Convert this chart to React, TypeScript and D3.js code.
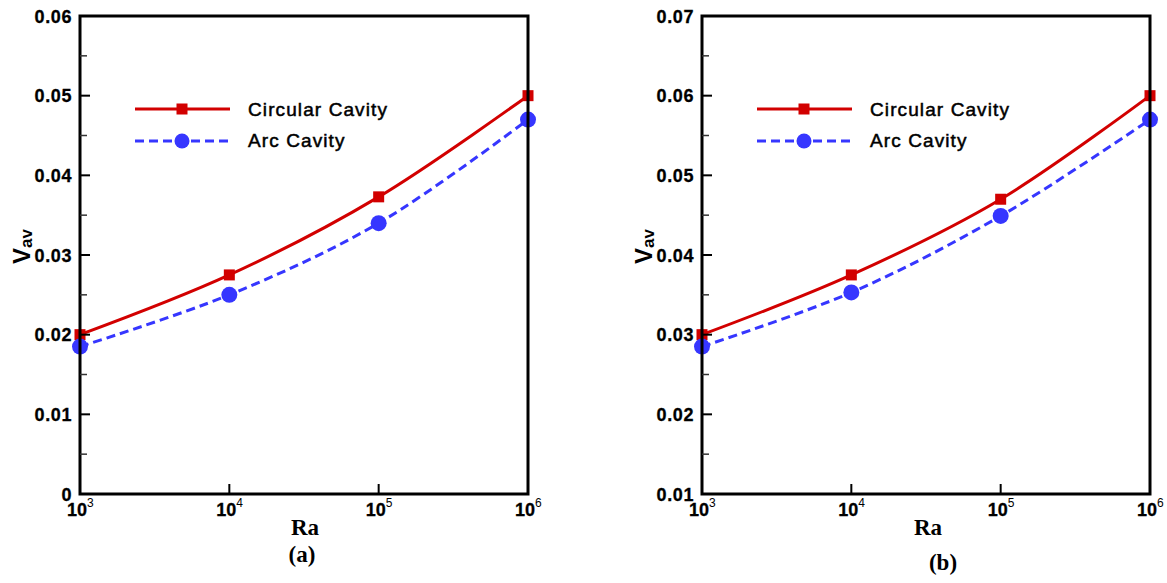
import React from "react";
import * as d3 from "d3";

const raValues = [1e3, 1e4, 1e5, 1e6];
const xTickExps = [3, 4, 5, 6];

const circularA = [0.02, 0.0275, 0.0373, 0.05];
const arcA = [0.0185, 0.025, 0.034, 0.047];
const yTicksA = [0, 0.01, 0.02, 0.03, 0.04, 0.05, 0.06];
const yTickLabelsA = ["0", "0.01", "0.02", "0.03", "0.04", "0.05", "0.06"];

const circularB = [0.03, 0.0375, 0.047, 0.06];
const arcB = [0.0285, 0.0353, 0.0449, 0.057];
const yTicksB = [0.01, 0.02, 0.03, 0.04, 0.05, 0.06, 0.07];
const yTickLabelsB = ["0.01", "0.02", "0.03", "0.04", "0.05", "0.06", "0.07"];

const seriesNames = ["Circular Cavity", "Arc Cavity"];
const RED = "#d20000";
const BLUE = "#3636ff";

type PanelProps = {
  dx: number;
  circ: number[];
  arc: number[];
  yTicks: number[];
  yLabels: string[];
  caption: string;
  raX: number;
  capX: number;
  capY: number;
};

function Panel({ dx, circ, arc, yTicks, yLabels, caption, raX, capX, capY }: PanelProps) {
  const left = 80, right = 528, top = 16, bottom = 494;
  const x = d3.scaleLog().domain([1e3, 1e6]).range([left, right]);
  const y = d3.scaleLinear().domain([yTicks[0], yTicks[yTicks.length - 1]]).range([bottom, top]);
  const line = d3
    .line<number>()
    .x((_, i) => x(raValues[i]))
    .y((d) => y(d))
    .curve(d3.curveCatmullRom.alpha(0.5));
  const minor: number[] = [];
  for (let i = 0; i < yTicks.length - 1; i++) minor.push((yTicks[i] + yTicks[i + 1]) / 2);
  const tickFont = "Arial, 'Liberation Sans', sans-serif";
  return (
    <g transform={`translate(${dx},0)`}>
      {/* data lines */}
      <path d={line(circ) || ""} fill="none" stroke={RED} strokeWidth={3} />
      <path d={line(arc) || ""} fill="none" stroke={BLUE} strokeWidth={3} strokeDasharray="9 5" />
      {circ.map((v, i) => (
        <rect key={"s" + i} x={x(raValues[i]) - 5.5} y={y(v) - 5.5} width={11} height={11} fill={RED} />
      ))}
      {arc.map((v, i) => (
        <circle key={"c" + i} cx={x(raValues[i])} cy={y(v)} r={8} fill={BLUE} />
      ))}
      {/* frame */}
      <rect x={left} y={top} width={right - left} height={bottom - top} fill="none" stroke="#000" strokeWidth={3} />
      {/* y ticks */}
      {yTicks.map((t, i) => (
        <g key={"yt" + i}>
          <line x1={left} x2={left + 10} y1={y(t)} y2={y(t)} stroke="#000" strokeWidth={2} />
          <text
            x={left - 8}
            y={y(t) + 6.5}
            textAnchor="end"
            fontFamily={tickFont}
            fontWeight="bold"
            fontSize={18}
            letterSpacing={0.6}
            fill="#000"
            stroke="#000"
            strokeWidth={0.3}
          >
            {yLabels[i]}
          </text>
        </g>
      ))}
      {minor.map((t, i) => (
        <line key={"ym" + i} x1={left} x2={left + 7} y1={y(t)} y2={y(t)} stroke="#333" strokeWidth={1.5} />
      ))}
      {/* x ticks */}
      {xTickExps.map((e, i) => {
        const xv = x(Math.pow(10, e));
        return (
          <g key={"xt" + i}>
            <line x1={xv} x2={xv} y1={bottom} y2={bottom - 10} stroke="#000" strokeWidth={2} />
            <text
              x={xv - 13}
              y={516}
              fontFamily={tickFont}
              fontWeight="bold"
              fontSize={18}
              fill="#000"
              stroke="#000"
              strokeWidth={0.3}
            >
              10
              <tspan dy={-9} fontSize={12} fontWeight="normal" strokeWidth={0}>
                {String(e)}
              </tspan>
            </text>
          </g>
        );
      })}
      {/* axis labels */}
      <text
        x={raX}
        y={535}
        textAnchor="middle"
        fontFamily="'Times New Roman', 'Liberation Serif', serif"
        fontWeight="bold"
        fontSize={23}
        fill="#000"
      >
        Ra
      </text>
      <text
        x={capX}
        y={capY}
        textAnchor="middle"
        fontFamily="'Times New Roman', 'Liberation Serif', serif"
        fontWeight="bold"
        fontSize={23}
        fill="#000"
      >
        {caption}
      </text>
      <text
        transform={`translate(30,264) rotate(-90)`}
        fontFamily={tickFont}
        fontWeight="bold"
        fontSize={24}
        fill="#000"
      >
        V
        <tspan fontSize={17} dy={2}>
          av
        </tspan>
      </text>
      {/* legend */}
      <line x1={135} x2={230} y1={109} y2={109} stroke={RED} strokeWidth={3} />
      <rect x={182 - 5.5} y={109 - 5.5} width={11} height={11} fill={RED} />
      <text
        x={248}
        y={116}
        fontFamily={tickFont}
        fontSize={19}
        letterSpacing={1.1}
        fill="#000"
        stroke="#000"
        strokeWidth={0.5}
      >
        {seriesNames[0]}
      </text>
      <line x1={135} x2={230} y1={141} y2={141} stroke={BLUE} strokeWidth={3} strokeDasharray="9 5" />
      <circle cx={182} cy={141} r={7.5} fill={BLUE} />
      <text
        x={248}
        y={147}
        fontFamily={tickFont}
        fontSize={19}
        letterSpacing={1.1}
        fill="#000"
        stroke="#000"
        strokeWidth={0.5}
      >
        {seriesNames[1]}
      </text>
    </g>
  );
}

export default function App() {
  return (
    <svg width={1167} height={583} style={{ position: "absolute", left: 0, top: 0, background: "#fff" }}>
      <rect x={0} y={0} width={1167} height={583} fill="#fff" />
      <Panel
        dx={0}
        circ={circularA}
        arc={arcA}
        yTicks={yTicksA}
        yLabels={yTickLabelsA}
        caption="(a)"
        raX={305}
        capX={302}
        capY={562}
      />
      <Panel
        dx={622}
        circ={circularB}
        arc={arcB}
        yTicks={yTicksB}
        yLabels={yTickLabelsB}
        caption="(b)"
        raX={306}
        capX={321}
        capY={570}
      />
    </svg>
  );
}
